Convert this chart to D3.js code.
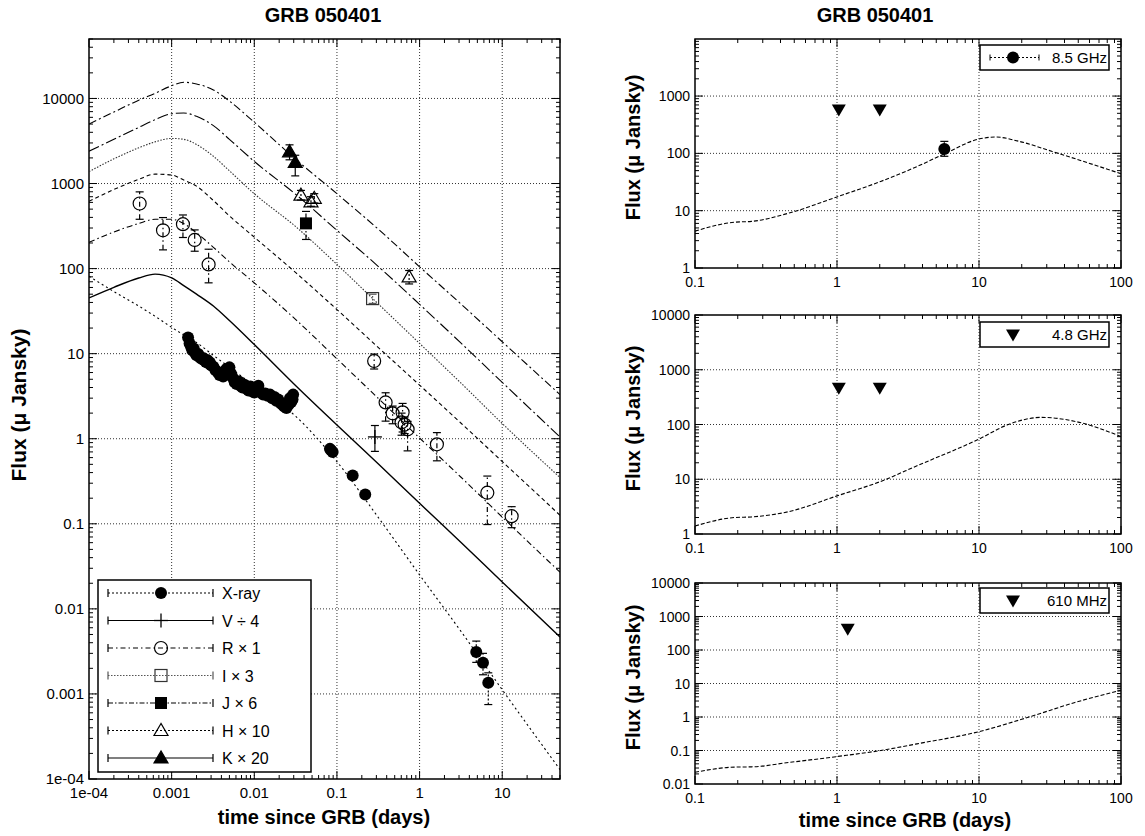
<!DOCTYPE html>
<html>
<head>
<meta charset="utf-8">
<script src="https://cdn.jsdelivr.net/npm/d3@7"></script>
<style>
body{margin:0;background:#fff;}
svg{display:block;font-family:"Liberation Sans",Arial,Helvetica,sans-serif;}
</style>
</head>
<body>
<div id="chart"></div>
<script>
// ---- tick labels ----
const leftXTicks = [1e-4, 0.001, 0.01, 0.1, 1, 10];
const leftXLabels = ["1e-04", "0.001", "0.01", "0.1", "1", "10"];
const leftYTicks = [1e-4, 0.001, 0.01, 0.1, 1, 10, 100, 1000, 10000];
const leftYLabels = ["1e-04", "0.001", "0.01", "0.1", "1", "10", "100", "1000", "10000"];
const radioXTicks = [0.1, 1, 10, 100];
const radioXLabels = ["0.1", "1", "10", "100"];
const radioYTicksTop = [1, 10, 100, 1000];
const radioYTicksMid = [1, 10, 100, 1000, 10000];
const radioYTicksBot = [0.01, 0.1, 1, 10, 100, 1000, 10000];

// ---- model curves (left panel), days / micro Jansky ----
const modelT   = [1e-4, 2e-4, 4e-4, 6.3e-4, 0.001, 0.0014, 0.002, 0.0032, 0.005, 0.01, 0.032, 0.1, 0.32, 1, 3.2, 10, 50];
const optical1 = [5010, 6920, 9550, 11500, 14100, 15500, 14800, 12600, 9330, 5250, 1910, 759, 288, 105, 38, 13.8, 3.3];
const optical2 = [2400, 3310, 4570, 5620, 6610, 6760, 6170, 4790, 3310, 1820, 741, 282, 105, 38, 13.2, 4.6, 1.05];
const optical3 = [1380, 1950, 2630, 3090, 3390, 3310, 2880, 2090, 1410, 759, 309, 112, 38, 13.2, 4.47, 1.51, 0.35];
const optical4 = [617, 851, 1120, 1290, 1260, 1100, 933, 631, 417, 234, 89, 33, 11.7, 4.27, 1.51, 0.54, 0.126];
const optical5 = [204, 269, 339, 380, 380, 339, 263, 178, 120, 68, 25, 8.7, 2.95, 1.02, 0.35, 0.12, 0.027];
const optical6 = [45.2, 60.3, 77.6, 86.1, 77.6, 63.1, 50.1, 36.3, 24.5, 12.8, 4.17, 1.45, 0.50, 0.174, 0.060, 0.0207, 0.00468];
const xrayModel = [81.3, 53.7, 36.3, 27.5, 20.4, 16.6, 13.5, 9.55, 6.92, 4.17, 1.82, 0.537, 0.117, 0.0251, 0.00537, 0.00112, 0.000129];

// ---- measurements: [t, flux, low, high] ----
const xrayEarly = [
  [0.00158,15.5],[0.00165,13.2],[0.00172,12.0],[0.00178,11.0],[0.00185,11.5],[0.00192,10.2],
  [0.0020,9.6],[0.0021,9.9],[0.0022,9.0],[0.0023,8.7],[0.0024,8.9],[0.0025,8.3],[0.0026,8.0],
  [0.0027,8.4],[0.0028,7.7],[0.0029,7.9],[0.0030,7.3],[0.0032,7.0],[0.0034,6.4],[0.0036,6.1],
  [0.0038,5.6],[0.0040,5.8],[0.0042,5.4],[0.0044,6.2],[0.0046,6.6],[0.0048,6.4],[0.0050,6.9],
  [0.0052,5.9],[0.0055,5.2],[0.0058,4.6],[0.0061,4.4],[0.0065,4.7],[0.0068,4.2],[0.0072,4.0],
  [0.0076,4.3],[0.0080,3.9],[0.0085,3.7],[0.0090,4.1],[0.0095,3.6],[0.0100,3.5],[0.0106,3.8],
  [0.0112,4.2],[0.0120,3.5],[0.0128,3.3],[0.0136,3.4],[0.0145,3.2],[0.0155,3.3],[0.0165,3.0],
  [0.0175,3.1],[0.0185,2.8],[0.0195,2.9],[0.0210,2.6],[0.0220,2.5],[0.0230,2.4],[0.0245,2.3],
  [0.0260,2.5],[0.0270,3.0],[0.0280,2.7],[0.0290,2.9],[0.0295,3.3]
];
const xrayLate = [
  [0.0823,0.76],[0.085,0.73],[0.0887,0.70],[0.155,0.37],[0.22,0.221],
  [4.85,0.00312,0.00235,0.00418],[5.85,0.00232,0.00168,0.0030],[6.78,0.00135,0.00075,0.00177]
];
const vBand = [[0.288,1.05,0.71,1.43]];
const rBand = [
  [4.1e-4,582,380,798],[7.86e-4,282,166,398],[1.37e-3,333,232,427],[1.9e-3,217,160,285],[2.8e-3,112,68,169],
  [0.282,8.2,6.6,9.9],[0.388,2.67,1.61,3.47],[0.472,1.99,1.5,2.42],[0.623,2.04,1.2,2.6],[0.605,1.56,1.1,2.0],
  [0.659,1.47,1.15,1.8],[0.716,1.29,0.72,1.6],[1.62,0.86,0.55,1.18],[6.6,0.232,0.098,0.364],[13.0,0.123,0.09,0.159]
];
const iBand = [[0.27,44.4,39,50]];
const jBand = [[0.0422,340,220,470]];
const hBand = [[0.0367,730,640,830],[0.0485,610,540,700],[0.0532,670,590,760],[0.747,80,66,95]];
const kBand = [[0.0267,2360,1900,2850],[0.0313,1770,1230,2150]];
const legendLabels = ["X-ray", "V \u00f7 4", "R \u00d7 1", "I \u00d7 3", "J \u00d7 6", "H \u00d7 10", "K \u00d7 20"];

// ---- radio panels ----
const radioLabels = ["8.5 GHz", "4.8 GHz", "610 MHz"];
const model85T = [0.1, 0.19, 0.25, 0.46, 1, 2.03, 3.66, 5.69, 10, 13.1, 19.2, 32.8, 59.3, 100];
const model85F = [4.4, 6.3, 6.5, 9.1, 17.4, 32.4, 58.9, 97.7, 178, 193, 162, 108, 67.6, 44.2];
const model48T = [0.1, 0.19, 0.25, 0.46, 1, 2.03, 3.66, 10, 16.1, 27.5, 46.8, 100];
const model48F = [1.40, 2.0, 2.05, 2.57, 4.97, 9.12, 17.6, 54.2, 100, 135, 115, 60.3];
const model610T = [0.1, 0.19, 0.25, 0.46, 1, 2.03, 3.66, 10, 22.9, 46.8, 100];
const model610F = [0.0224, 0.032, 0.0325, 0.044, 0.066, 0.10, 0.158, 0.366, 1.02, 2.67, 6.31];
const det85 = [[5.7,119,89,162]];
const lim85 = [[1.03,580],[2.0,580]];
const lim48 = [[1.03,467],[2.0,467]];
const lim610 = [[1.19,430]];

const svg = d3.select('#chart').append('svg').attr('width', 1145).attr('height', 836);
svg.append('rect').attr('width', 1145).attr('height', 836).attr('fill', '#fff');

function isDecade(v){
  const l = Math.log10(v);
  return Math.abs(l - Math.round(l)) < 1e-6;
}

function drawAxes(x, y, xMajor, xLabels, yMajor, yLabels, fs){
  const [x0, x1] = x.range();
  const [yb, yt] = y.range();
  const g = svg.append('g');
  // dotted grid at the labelled decades
  g.selectAll(null).data(xMajor.filter(v => x(v) > x0 + 1 && x(v) < x1 - 1)).join('line')
    .attr('x1', d => x(d)).attr('x2', d => x(d)).attr('y1', yb).attr('y2', yt)
    .attr('stroke', '#333').attr('stroke-width', 1).attr('stroke-dasharray', '1,2');
  g.selectAll(null).data(yMajor.filter(v => y(v) < yb - 1 && y(v) > yt + 1)).join('line')
    .attr('y1', d => y(d)).attr('y2', d => y(d)).attr('x1', x0).attr('x2', x1)
    .attr('stroke', '#333').attr('stroke-width', 1).attr('stroke-dasharray', '1,2');
  // ticks on all four sides
  x.ticks().forEach(v => {
    const len = isDecade(v) ? 8 : 4, px = x(v);
    g.append('line').attr('x1', px).attr('x2', px).attr('y1', yb).attr('y2', yb - len).attr('stroke', '#000');
    g.append('line').attr('x1', px).attr('x2', px).attr('y1', yt).attr('y2', yt + len).attr('stroke', '#000');
  });
  y.ticks().forEach(v => {
    const len = isDecade(v) ? 8 : 4, py = y(v);
    g.append('line').attr('y1', py).attr('y2', py).attr('x1', x0).attr('x2', x0 + len).attr('stroke', '#000');
    g.append('line').attr('y1', py).attr('y2', py).attr('x1', x1).attr('x2', x1 - len).attr('stroke', '#000');
  });
  g.append('rect').attr('x', x0).attr('y', yt).attr('width', x1 - x0).attr('height', yb - yt)
    .attr('fill', 'none').attr('stroke', '#000').attr('stroke-width', 1.5);
  g.selectAll(null).data(xMajor).join('text')
    .attr('x', d => x(d)).attr('y', yb + 19).attr('text-anchor', 'middle')
    .attr('font-size', fs).text((d, i) => xLabels[i]);
  g.selectAll(null).data(yMajor).join('text')
    .attr('x', x0 - 5).attr('y', d => y(d) + fs * 0.36).attr('text-anchor', 'end')
    .attr('font-size', fs).text((d, i) => yLabels[i]);
  return g;
}

function clipFor(id, x, y){
  const [x0, x1] = x.range();
  const [yb, yt] = y.range();
  svg.append('clipPath').attr('id', id).append('rect')
    .attr('x', x0).attr('y', yt).attr('width', x1 - x0).attr('height', yb - yt);
  return svg.append('g').attr('clip-path', `url(#${id})`);
}

function drawCurve(g, x, y, ts, fs, dash, color, width){
  const line = d3.line().x(d => x(d[0])).y(d => y(d[1])).curve(d3.curveMonotoneX);
  g.append('path').attr('d', line(ts.map((t, i) => [t, fs[i]])))
    .attr('fill', 'none').attr('stroke', color || '#000').attr('stroke-width', width || 1.1)
    .attr('stroke-dasharray', dash);
}

function marker(g, type, cx, cy){
  if (type === 'fcircle') {
    g.append('circle').attr('cx', cx).attr('cy', cy).attr('r', 6).attr('fill', '#000');
  } else if (type === 'ocircle') {
    g.append('circle').attr('cx', cx).attr('cy', cy).attr('r', 6.5).attr('fill', 'none').attr('stroke', '#000').attr('stroke-width', 1.2);
  } else if (type === 'osquare') {
    g.append('rect').attr('x', cx - 6).attr('y', cy - 6).attr('width', 12).attr('height', 12).attr('fill', 'none').attr('stroke', '#333').attr('stroke-width', 1.2);
  } else if (type === 'fsquare') {
    g.append('rect').attr('x', cx - 6).attr('y', cy - 6).attr('width', 12).attr('height', 12).attr('fill', '#000');
  } else if (type === 'otri' || type === 'ftri') {
    g.append('path').attr('d', `M${cx},${cy - 7}L${cx - 7},${cy + 5}L${cx + 7},${cy + 5}Z`)
      .attr('fill', type === 'ftri' ? '#000' : 'none').attr('stroke', '#000').attr('stroke-width', 1.2);
  } else if (type === 'dtri') {
    g.append('path').attr('d', `M${cx - 7},${cy - 5}L${cx + 7},${cy - 5}L${cx},${cy + 7}Z`).attr('fill', '#000');
  } else if (type === 'plus') {
    g.append('line').attr('x1', cx - 7).attr('x2', cx + 7).attr('y1', cy).attr('y2', cy).attr('stroke', '#000').attr('stroke-width', 1.3);
    g.append('line').attr('x1', cx).attr('x2', cx).attr('y1', cy - 7).attr('y2', cy + 7).attr('stroke', '#000').attr('stroke-width', 1.3);
  }
}

function drawSeries(g, x, y, data, type, dash, color){
  data.forEach(d => {
    if (d.length > 2) {
      const px = x(d[0]);
      g.append('line').attr('x1', px).attr('x2', px).attr('y1', y(d[2])).attr('y2', y(d[3]))
        .attr('stroke', color).attr('stroke-width', 1.2).attr('stroke-dasharray', dash);
      [d[2], d[3]].forEach(v => g.append('line').attr('x1', px - 4).attr('x2', px + 4)
        .attr('y1', y(v)).attr('y2', y(v)).attr('stroke', color).attr('stroke-width', 1.2));
    }
  });
  data.forEach(d => marker(g, type, x(d[0]), y(d[1])));
}

// ================= left panel =================
const lx = d3.scaleLog().domain([1e-4, 50]).range([89, 560]);
const ly = d3.scaleLog().domain([1e-4, 5e4]).range([779, 39]);
drawAxes(lx, ly, leftXTicks, leftXLabels, leftYTicks, leftYLabels, 15);
const lg = clipFor('clipLeft', lx, ly);

drawCurve(lg, lx, ly, modelT, optical1, '8,3,2,3');
drawCurve(lg, lx, ly, modelT, optical2, '11,3,2,3');
drawCurve(lg, lx, ly, modelT, optical3, '1.5,1.5', '#333');
drawCurve(lg, lx, ly, modelT, optical4, '4,3');
drawCurve(lg, lx, ly, modelT, optical5, '6,3,1.5,3');
drawCurve(lg, lx, ly, modelT, optical6, null, '#000', 1.4);
drawCurve(lg, lx, ly, modelT, xrayModel, '2,3');

const seriesStyles = [
  {data: xrayEarly.concat(xrayLate), type: 'fcircle', dash: '2,2', color: '#000'},
  {data: vBand, type: 'plus', dash: null, color: '#000'},
  {data: rBand, type: 'ocircle', dash: '5,3,1.5,3', color: '#000'},
  {data: iBand, type: 'osquare', dash: '1.5,1.5', color: '#555'},
  {data: jBand, type: 'fsquare', dash: '5,2,1.5,2', color: '#000'},
  {data: hBand, type: 'otri', dash: '2,2', color: '#000'},
  {data: kBand, type: 'ftri', dash: null, color: '#000'}
];
seriesStyles.forEach(s => drawSeries(lg, lx, ly, s.data, s.type, s.dash, s.color));

// legend
const leg = svg.append('g');
leg.append('rect').attr('x', 98).attr('y', 580).attr('width', 213).attr('height', 192)
  .attr('fill', '#fff').attr('stroke', '#000').attr('stroke-width', 1.5);
seriesStyles.forEach((s, i) => {
  const cy = 593 + i * 27.5;
  leg.append('line').attr('x1', 108).attr('x2', 213).attr('y1', cy).attr('y2', cy)
    .attr('stroke', s.color).attr('stroke-width', 1.2).attr('stroke-dasharray', s.dash);
  [108, 213].forEach(px => leg.append('line').attr('x1', px).attr('x2', px).attr('y1', cy - 4).attr('y2', cy + 4)
    .attr('stroke', s.color).attr('stroke-width', 1.2));
  marker(leg, s.type, 161, cy);
  leg.append('text').attr('x', 222).attr('y', cy + 6).attr('font-size', 16).text(legendLabels[i]);
});

svg.append('text').attr('x', 323).attr('y', 22).attr('text-anchor', 'middle')
  .attr('font-size', 20).attr('font-weight', 'bold').text('GRB 050401');
svg.append('text').attr('x', 324).attr('y', 824).attr('text-anchor', 'middle')
  .attr('font-size', 20).attr('font-weight', 'bold').text('time since GRB (days)');
svg.append('text').attr('transform', 'translate(26,405) rotate(-90)').attr('text-anchor', 'middle')
  .attr('font-size', 21).attr('font-weight', 'bold').text('Flux (\u03bc Jansky)');

// ================= radio panels =================
const rx = d3.scaleLog().domain([0.1, 100]).range([695, 1121]);
const radioPanels = [
  {y: d3.scaleLog().domain([1, 9900]).range([268, 39]), ticks: radioYTicksTop, t: model85T, f: model85F, lim: lim85, det: det85, box: 45},
  {y: d3.scaleLog().domain([1, 10000]).range([534, 315]), ticks: radioYTicksMid, t: model48T, f: model48F, lim: lim48, det: null, box: 322},
  {y: d3.scaleLog().domain([0.01, 10000]).range([784, 583]), ticks: radioYTicksBot, t: model610T, f: model610F, lim: lim610, det: null, box: 588}
];
radioPanels.forEach((p, i) => {
  drawAxes(rx, p.y, radioXTicks, radioXLabels, p.ticks, p.ticks.map(v => d3.format('~g')(v)), 14);
  const g = clipFor('clipRadio' + i, rx, p.y);
  drawCurve(g, rx, p.y, p.t, p.f, '4,2');
  p.lim.forEach(d => marker(g, 'dtri', rx(d[0]), p.y(d[1])));
  if (p.det) drawSeries(g, rx, p.y, p.det, 'fcircle', '2,2', '#000');
  const [yb, yt] = p.y.range();
  svg.append('text').attr('transform', `translate(640,${(yb + yt) / 2 - 6}) rotate(-90)`)
    .attr('text-anchor', 'middle').attr('font-size', 20).attr('font-weight', 'bold').text('Flux (\u03bc Jansky)');
  // legend box
  const lb = svg.append('g');
  lb.append('rect').attr('x', 980).attr('y', p.box).attr('width', 129).attr('height', 25)
    .attr('fill', '#fff').attr('stroke', '#000').attr('stroke-width', 1.5);
  const cy = p.box + 12.5;
  if (p.det) {
    lb.append('line').attr('x1', 990).attr('x2', 1039).attr('y1', cy).attr('y2', cy)
      .attr('stroke', '#000').attr('stroke-dasharray', '2,2');
    [990, 1039].forEach(px => lb.append('line').attr('x1', px).attr('x2', px).attr('y1', cy - 3).attr('y2', cy + 3).attr('stroke', '#000'));
    marker(lb, 'fcircle', 1013, cy);
  } else {
    marker(lb, 'dtri', 1013, cy);
  }
  lb.append('text').attr('x', 1107).attr('y', cy + 5).attr('text-anchor', 'end').attr('font-size', 15).text(radioLabels[i]);
});

svg.append('text').attr('x', 875).attr('y', 22).attr('text-anchor', 'middle')
  .attr('font-size', 20).attr('font-weight', 'bold').text('GRB 050401');
svg.append('text').attr('x', 905).attr('y', 827).attr('text-anchor', 'middle')
  .attr('font-size', 20).attr('font-weight', 'bold').text('time since GRB (days)');
</script>
</body>
</html>
